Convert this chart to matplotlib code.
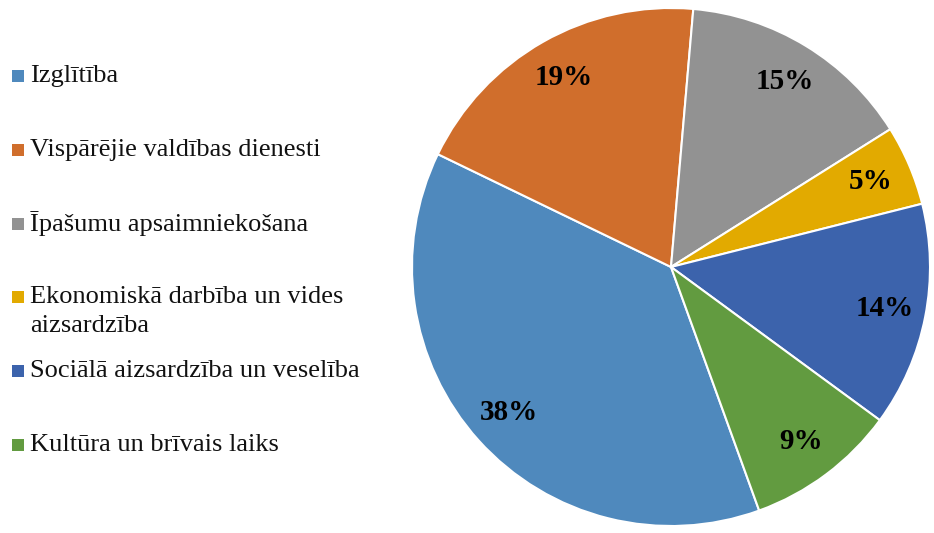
import matplotlib.pyplot as plt
from matplotlib.patches import Rectangle

# ----- Dati -----
nozares = ["Izglītība", "Vispārējie valdības dienesti", "Īpašumu apsaimniekošana",
           "Ekonomiskā darbība un vides\naizsardzība", "Sociālā aizsardzība un veselība",
           "Kultūra un brīvais laiks"]
daļas = [37.7, 19.2, 14.7, 5.0, 14.0, 9.4]
krāsas = ["#4F89BD", "#D06E2C", "#929292", "#E2AA00", "#3C63AC", "#629B40"]

W, H = 934, 533
fig = plt.figure(figsize=(W / 100, H / 100), dpi=100)

# ----- Pīrāgs -----
cx, cy, r = 671, 267, 259
ax = fig.add_axes([(cx - r) / W, (H - cy - r) / H, 2 * r / W, 2 * r / H])
wedges, _, pct = ax.pie(daļas, colors=krāsas, startangle=-70.1, counterclock=False,
                        autopct='%.0f%%', pctdistance=0.84,
                        wedgeprops=dict(edgecolor='white', linewidth=1.5),
                        textprops=dict(family='Liberation Serif', fontsize=21,
                                       fontweight='bold', color='black'))
ax.set_xlim(-1, 1)
ax.set_ylim(-1, 1)
ax.axis('off')

# ----- Leģenda -----
y0, solis, rinda = 76, 73.8, 29
for i, (nosaukums, krāsa) in enumerate(zip(nozares, krāsas)):
    y = y0 + i * solis
    fig.patches.append(Rectangle((12 / W, 1 - (y + 6) / H), 12 / W, 12 / H,
                                 facecolor=krāsa, transform=fig.transFigure))
    for j, teksts in enumerate(nosaukums.split("\n")):
        fig.text(30 / W, 1 - (y + j * rinda) / H, teksts, family='Liberation Serif',
                 fontsize=19, va='center', ha='left', color='#111111')

fig.savefig("out.png", dpi=100)
